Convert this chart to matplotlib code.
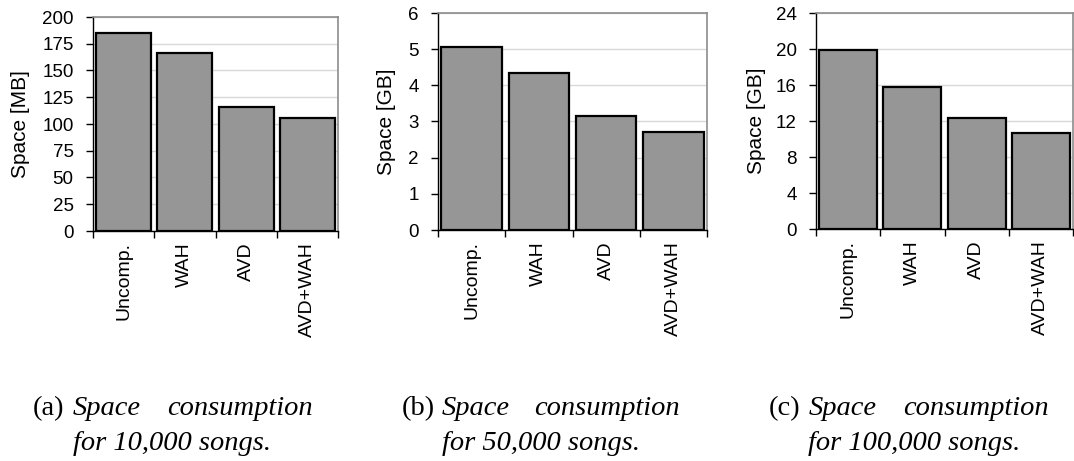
import matplotlib
matplotlib.use("Agg")
from matplotlib import pyplot as plt
from matplotlib.ticker import FixedLocator

methods = ["Uncomp.", "WAH", "AVD", "AVD+WAH"]

space_10k = [185, 166, 116, 106]     # MB
space_50k = [5.07, 4.35, 3.16, 2.70]  # GB
space_100k = [19.9, 15.8, 12.35, 10.7]  # GB

song_counts = ["10,000", "50,000", "100,000"]
panel_tags = ["(a)", "(b)", "(c)"]
units = ["Space [MB]", "Space [GB]", "Space [GB]"]
y_ticks = [list(range(0, 201, 25)), list(range(0, 7)), list(range(0, 25, 4))]

W, H = 1074, 461
fig = plt.figure(figsize=(W / 100, H / 100), dpi=100)
plt.rcParams["font.family"] = ["Liberation Sans", "DejaVu Sans"]

# axes boxes in pixels: left, right, top, bottom
boxes = [(93, 338, 17, 231), (438, 707, 13, 230), (816, 1073, 13, 229)]
ylabel_x = [21, 386, 756]

# caption layout in pixels: tag x, "Space" x, "consumption" right edge, line-2 centre
caption_pos = [(33, 73, 313, 172), (402, 442, 680, 541), (769, 809, 1049, 914)]
cap_size = 20.5

for i, values in enumerate([space_10k, space_50k, space_100k]):
    l, r, t, b = boxes[i]
    ax = fig.add_axes([l / W, 1 - b / H, (r - l) / W, (b - t) / H])
    x = range(len(methods))
    ax.bar(x, values, width=0.9, color="#969696", edgecolor="black",
           linewidth=1.6, zorder=3)

    ax.set_xlim(-0.5, len(methods) - 0.5)
    ax.set_ylim(y_ticks[i][0], y_ticks[i][-1])
    ax.set_yticks(y_ticks[i])
    ax.set_xticks(list(x))
    ax.set_xticklabels(methods, rotation=90, fontsize=14)
    ax.xaxis.set_minor_locator(FixedLocator([k - 0.5 for k in range(len(methods) + 1)]))
    ax.tick_params(axis="x", which="major", length=0, pad=8)
    ax.tick_params(axis="x", which="minor", length=5, width=1, direction="out")
    ax.tick_params(axis="y", length=5, width=1, direction="out", labelsize=13.5, pad=9)

    ax.grid(axis="y", color="#d9d9d9", linewidth=1, zorder=0)
    for side in ("top", "right"):
        ax.spines[side].set_color("#8c8c8c")
        ax.spines[side].set_linewidth(1.2)
    for side in ("left", "bottom"):
        ax.spines[side].set_color("black")
        ax.spines[side].set_linewidth(1)

    ax.set_ylabel(units[i], fontsize=15, va="center")
    ax.yaxis.set_label_coords((ylabel_x[i] - l) / (r - l), 0.5)

    # caption below each panel
    tx, sx, cr, mid = caption_pos[i]
    fig.text(tx / W, 1 - 415 / H, panel_tags[i], family="Liberation Serif",
             fontsize=cap_size, va="baseline", ha="left")
    fig.text(sx / W, 1 - 415 / H, "Space", family="Liberation Serif",
             style="italic", fontsize=cap_size, va="baseline", ha="left")
    fig.text(cr / W, 1 - 415 / H, "consumption", family="Liberation Serif",
             style="italic", fontsize=cap_size, va="baseline", ha="right")
    fig.text(mid / W, 1 - 450 / H, "for %s songs." % song_counts[i],
             family="Liberation Serif", style="italic", fontsize=cap_size,
             va="baseline", ha="center")

fig.savefig("out.png", dpi=100)
